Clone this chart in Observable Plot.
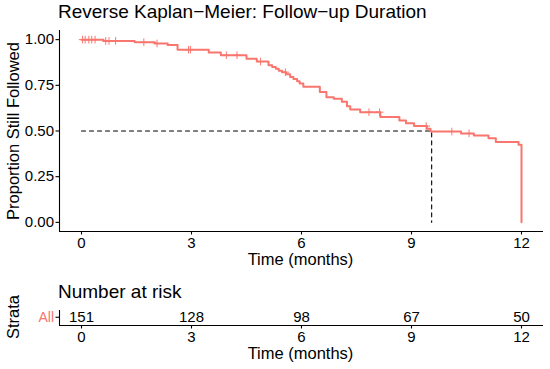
<!DOCTYPE html>
<html><head><meta charset="utf-8">
<script src="https://cdn.jsdelivr.net/npm/d3@7"></script>
<script src="https://cdn.jsdelivr.net/npm/@observablehq/plot@0.6"></script>
<style>
body{margin:0;background:#fff;}
#c{position:relative;width:550px;height:369px;font-family:"Liberation Sans",Arial,sans-serif;color:#000;overflow:hidden;background:#fff}
#c svg{position:absolute;left:0}
.t{position:absolute;white-space:nowrap;line-height:1}
</style></head><body><div id="c"></div>
<script>
// ---- data ----
const stepTimes = [0, 0.6, 1.45, 2.0, 2.35, 2.62, 3.47, 3.8, 4.5, 4.78, 5.1, 5.2, 5.3, 5.38, 5.47, 5.58, 5.69, 5.78, 5.88, 5.95, 6.05, 6.5, 6.68, 6.88, 7.1, 7.24, 7.33, 7.6, 8.15, 8.67, 8.85, 9.07, 9.42, 9.52, 10.35, 10.7, 11.1, 11.3, 11.92, 12];
const stepSurv  = [1.0, 0.993, 0.986, 0.979, 0.97, 0.945, 0.93, 0.915, 0.895, 0.88, 0.86, 0.85, 0.84, 0.83, 0.822, 0.81, 0.795, 0.785, 0.772, 0.76, 0.742, 0.713, 0.685, 0.676, 0.66, 0.635, 0.617, 0.603, 0.576, 0.558, 0.542, 0.527, 0.512, 0.497, 0.487, 0.476, 0.46, 0.44, 0.425, 0.0];
const censorTimes = [0.03, 0.1, 0.2, 0.28, 0.37, 0.66, 0.75, 0.93, 1.7, 2.06, 2.92, 2.97, 3.95, 4.24, 4.88, 5.56, 7.84, 8.13, 9.4, 10.1, 10.57];
const medianTime = 9.55;
const medianSurv = 0.5;
const riskTimes = [0, 3, 6, 9, 12];
const riskCounts = [151, 128, 98, 67, 50];
const strata = ["All"];
const xTicks = [0, 3, 6, 9, 12];
const yTicks = [0, 0.25, 0.5, 0.75, 1];
const titleText = "Reverse Kaplan\u2212Meier: Follow\u2212up Duration";
const yTitle = "Proportion Still Followed";
const xTitle = "Time (months)";
const tableTitle = "Number at risk";
const tableYTitle = "Strata";

// ---- build ----
const color = "#F8766D";
const font = '"Liberation Sans", Arial, sans-serif';
const steps = stepTimes.map((t, i) => ({t, s: stepSurv[i]}));
const survAt = t => { let s = stepSurv[0]; for (let i = 0; i < stepTimes.length; i++) if (stepTimes[i] <= t) s = stepSurv[i]; return s; };
const censors = censorTimes.map(t => ({t, s: survAt(t)}));
const medianPath = [{t: 0, s: medianSurv}, {t: medianTime, s: medianSurv}, {t: medianTime, s: 0}];
const risk = riskTimes.map((t, i) => ({t, n: riskCounts[i]}));
const plus = {draw(ctx, size) { const r = Math.sqrt(size / Math.PI); ctx.moveTo(-r, 0); ctx.lineTo(r, 0); ctx.moveTo(0, -r); ctx.lineTo(0, r); }};

const main = Plot.plot({
  width: 550, height: 270, marginLeft: 59, marginRight: 7, marginTop: 30, marginBottom: 39,
  style: {fontFamily: font, fontSize: "15px", color: "black", background: "white"},
  x: {domain: [-0.6, 12.6]},
  y: {domain: [-0.05, 1.05]},
  marks: [
    Plot.ruleX([-0.6], {stroke: "black", strokeWidth: 1.1}),
    Plot.ruleY([-0.05], {stroke: "black", strokeWidth: 1.1}),
    Plot.axisX({ticks: xTicks, tickSize: 3.5, tickPadding: 2.5, label: null, strokeWidth: 1.1}),
    Plot.axisY({ticks: yTicks, tickSize: 3.5, tickPadding: 2, tickFormat: d3.format(".2f"), label: null, strokeWidth: 1.1}),
    Plot.line(medianPath, {x: "t", y: "s", stroke: "black", strokeWidth: 1.1, strokeDasharray: "4,4"}),
    Plot.line(steps, {x: "t", y: "s", curve: "step-after", stroke: color, strokeWidth: 2}),
    Plot.dot(censors, {x: "t", y: "s", symbol: plus, r: 3.8, stroke: color, strokeWidth: 1, fill: "none"})
  ]
});
main.style.top = "0px";

const table = Plot.plot({
  width: 550, height: 99, marginLeft: 59, marginRight: 7, marginTop: 40, marginBottom: 44,
  style: {fontFamily: font, fontSize: "15px", color: "black", background: "transparent"},
  x: {domain: [-0.6, 12.6]},
  y: {domain: [0, 1]},
  marks: [
    Plot.ruleX([-0.6], {stroke: "black", strokeWidth: 1.1}),
    Plot.ruleY([0], {stroke: "black", strokeWidth: 1.1}),
    Plot.axisX({ticks: xTicks, tickSize: 3.5, tickPadding: 2.5, label: null, strokeWidth: 1.1}),
    Plot.axisY({ticks: [0.55], tickFormat: () => strata[0], tickSize: 3.5, tickPadding: 2, fill: color, stroke: "black", fontSize: 14, label: null, strokeWidth: 1.1}),
    Plot.text(risk, {x: "t", y: () => 0.55, text: "n", fontSize: 15, fill: "black"})
  ]
});
table.style.top = "270px";

const c = document.getElementById("c");
c.appendChild(main);
c.appendChild(table);

function addText(txt, fs, opts) {
  const d = document.createElement("div");
  d.className = "t";
  d.textContent = txt;
  d.style.fontSize = fs + "px";
  if (opts.rotate) {
    d.style.left = opts.cx + "px"; d.style.top = opts.cy + "px";
    d.style.transform = "translate(-50%,-50%) rotate(-90deg)";
  } else if (opts.center) {
    d.style.left = opts.cx + "px"; d.style.top = (opts.baseline - 0.8465 * fs) + "px";
    d.style.transform = "translateX(-50%)";
  } else {
    d.style.left = opts.left + "px"; d.style.top = (opts.baseline - 0.8465 * fs) + "px";
  }
  c.appendChild(d);
}
addText(titleText, 19, {left: 58, baseline: 18.3});
addText(yTitle, 16.5, {rotate: true, cx: 12.8, cy: 130.5});
addText(xTitle, 16.5, {center: true, cx: 300.5, baseline: 265});
addText(tableTitle, 19, {left: 58, baseline: 298.3});
addText(tableYTitle, 16.5, {rotate: true, cx: 12.6, cy: 316.7});
addText(xTitle, 16.5, {center: true, cx: 300.5, baseline: 359});
</script></body></html>
